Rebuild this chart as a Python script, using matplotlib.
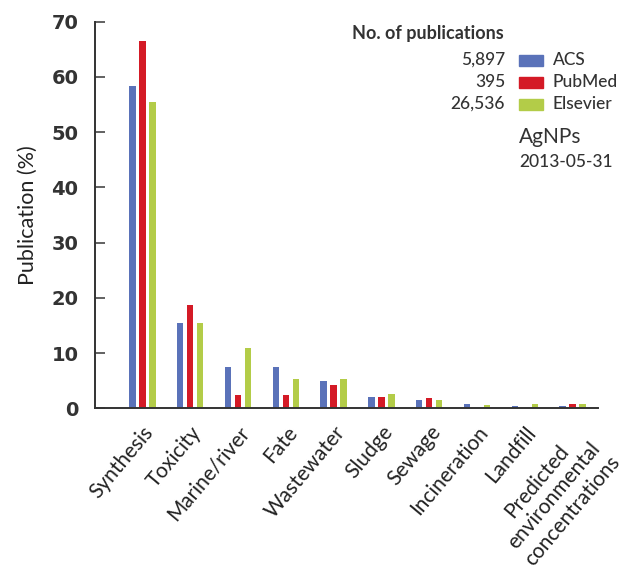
import numpy as np
import matplotlib
matplotlib.use("Agg")
import matplotlib.pyplot as plt
from matplotlib.patches import Rectangle

plt.rcParams['font.family'] = ['Lato', 'DejaVu Sans']

# data (% of publications)
categories = ['Synthesis', 'Toxicity', 'Marine/river', 'Fate', 'Wastewater',
              'Sludge', 'Sewage', 'Incineration', 'Landfill',
              'Predicted\nenvironmental\nconcentrations']
acs = [58.4, 15.4, 7.4, 7.4, 5.0, 2.1, 1.5, 0.7, 0.45, 0.45]
pubmed = [66.5, 18.7, 2.4, 2.4, 4.3, 2.1, 1.9, 0.0, 0.0, 0.85]
elsevier = [55.5, 15.4, 10.9, 5.3, 5.3, 2.5, 1.5, 0.65, 0.85, 0.85]
sources = ['ACS', 'PubMed', 'Elsevier']
n_pubs = ['5,897', '395', '26,536']
colors = ['#5a72b9', '#d41a26', '#b3cc48']
txt = '#333333'

W, H = 643, 570
fig = plt.figure(figsize=(W / 100, H / 100), dpi=100)
ax = fig.add_axes([95 / W, 1 - 408.3 / H, (598 - 95) / W, (408.3 - 21.7) / H])

x = np.arange(len(categories))
bw = 0.136
off = 0.209
for i, vals in enumerate([acs, pubmed, elsevier]):
    ax.bar(x + (i - 1) * off, vals, width=bw, color=colors[i], linewidth=0)

ax.set_xlim(-0.99, 9.53)
ax.set_ylim(0, 70)
ax.set_yticks(range(0, 71, 10))
ax.set_xticks(x)
ax.set_xticklabels(categories, rotation=50, ha='right', va='top',
                   rotation_mode='anchor', multialignment='center',
                   fontsize=15, color='#222222', linespacing=1.2)
for lab in ax.get_yticklabels():
    lab.set_fontweight('bold')
    lab.set_fontsize(14)
    lab.set_color(txt)
    lab.set_family(['DejaVu Sans'])
ax.tick_params(axis='y', direction='in', length=7, width=1.3, color='#555555', pad=12)
ax.tick_params(axis='x', length=0, pad=10)
for s in ['top', 'right']:
    ax.spines[s].set_visible(False)
for s in ['left', 'bottom']:
    ax.spines[s].set_color('#333333')
    ax.spines[s].set_linewidth(1.4)
ax.set_ylabel('Publication (%)', fontsize=15.5, color='#222222', labelpad=10)

# legend block
def fy(py):
    return 1 - py / H

fig.text(352 / W, fy(33), 'No. of publications', fontsize=13, color=txt,
         ha='left', va='center', fontweight='bold')
rows = [60, 82, 104]
for i in range(3):
    fig.text(505 / W, fy(rows[i]), n_pubs[i], fontsize=12.5, color=txt,
             ha='right', va='center', fontweight='medium')
    fig.patches.append(Rectangle((519 / W, fy(rows[i] + 5.5)), 23.5 / W, 11 / H,
                                 transform=fig.transFigure, color=colors[i],
                                 figure=fig))
    fig.text(553 / W, fy(rows[i]), sources[i], fontsize=12.5, color=txt,
             ha='left', va='center', fontweight='medium')
fig.text(519 / W, fy(137), 'AgNPs', fontsize=15, color=txt, ha='left', va='center')
fig.text(519 / W, fy(162), '2013-05-31', fontsize=12.5, color=txt, ha='left',
         va='center', fontweight='medium')

fig.savefig('out.png', dpi=100)
